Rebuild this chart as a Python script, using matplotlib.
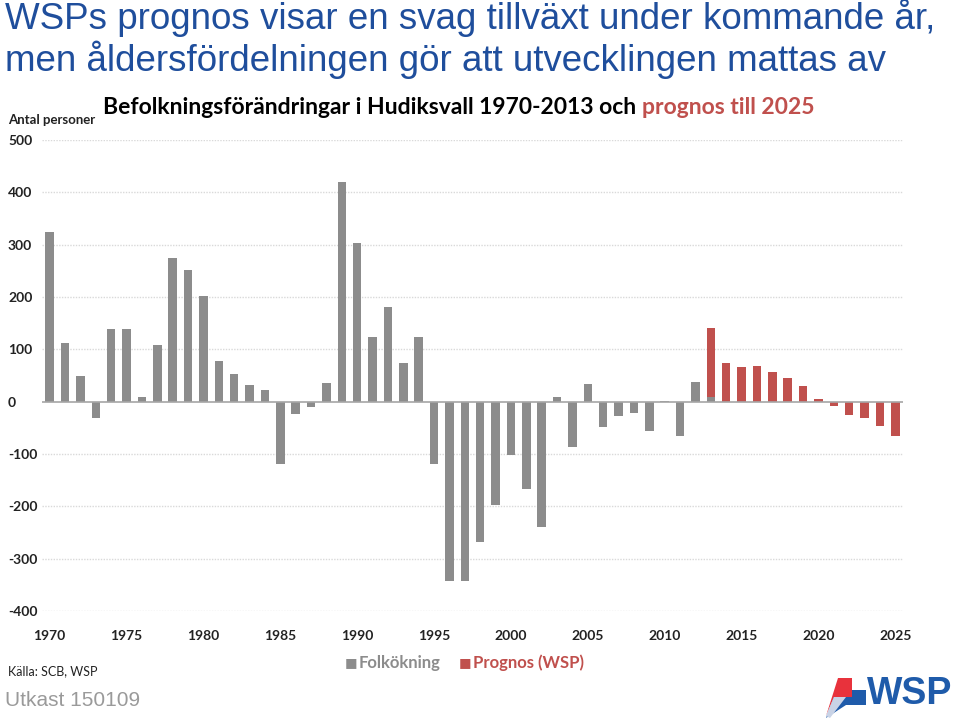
import matplotlib
matplotlib.use("Agg")
import matplotlib.pyplot as plt
from matplotlib.patches import Polygon

# data
years = list(range(1970, 2026))
folkokning = [324, 113, 50, -32, 138, 139, 9, 108, 274, 252,
              202, 77, 53, 32, 22, -119, -24, -11, 35, 420,
              303, 123, 180, 73, 124, -120, -342, -343, -268, -197,
              -102, -166, -240, 9, -87, 34, -48, -28, -22, -57,
              1, -65, 37, 8]
prognos = [141, 74, 66, 68, 56, 45, 30, 6, -8, -25, -32, -46, -66]
prognos_start = 2013

grey = "#8c8c8c"
red = "#c0504d"
blue = "#1f4e9c"

fig = plt.figure(figsize=(9.6, 7.24), dpi=100)
ax = fig.add_axes([42 / 960, 113 / 724, 861 / 960, 471 / 724])

xg = list(range(len(folkokning)))
xp = [years.index(prognos_start) + i for i in range(len(prognos))]
ax.bar(xp, prognos, width=0.55, color=red, zorder=2)
ax.bar(xg, folkokning, width=0.55, color=grey, zorder=3)

ax.set_xlim(-0.5, len(years) - 0.5)
ax.set_ylim(-400, 500)
yticks = list(range(-400, 501, 100))
ax.set_yticks(yticks)
for t in yticks:
    if t == 0:
        ax.axhline(0, color="#a6a6a6", lw=1.2, zorder=4)
    else:
        ax.axhline(t, color="#d9d9d9", lw=1, ls=(0, (1, 1)), zorder=1)

tick_years = list(range(1970, 2026, 5))
ax.set_xticks([years.index(y) for y in tick_years])
ax.set_xticklabels([str(y) for y in tick_years], fontsize=10, fontfamily="Lato",
                   fontweight="bold", color="#222222")
ax.set_yticklabels([str(t) for t in yticks], fontsize=10, fontfamily="Lato",
                   fontweight="bold", color="#222222", ha="left")
ax.tick_params(length=0, axis="x", pad=14)
ax.tick_params(length=0, axis="y", pad=24.5)
for ax_side in ax.spines.values():
    ax_side.set_visible(False)

# title
fig.text(5 / 960, 1 - 18 / 724, "WSPs prognos visar en svag tillväxt under kommande år,",
         fontsize=26.5, fontfamily="Liberation Sans", color=blue, va="center")
fig.text(5 / 960, 1 - 60 / 724, "men åldersfördelningen gör att utvecklingen mattas av",
         fontsize=26.5, fontfamily="Liberation Sans", color=blue, va="center")

# subtitle in two colours
sub1 = fig.text(103 / 960, 1 - 108 / 724, "Befolkningsförändringar i Hudiksvall 1970-2013 och ",
                fontsize=16.5, fontfamily="Lato", fontweight="bold", color="black", va="center")
fig.canvas.draw()
bb = sub1.get_window_extent()
fig.text(bb.x1 / 960, 1 - 108 / 724, "prognos till 2025", fontsize=16.5, fontfamily="Lato",
         fontweight="bold", color=red, va="center")

fig.text(8 / 960, 1 - 120 / 724, "Antal personer", fontsize=9.5, fontfamily="Lato",
         fontweight="bold", color="#222222", va="center")

# legend
fig.text(345 / 960, 1 - 663 / 724, "■", fontsize=9.5, color=grey, va="center")
fig.text(359 / 960, 1 - 663 / 724, "Folkökning", fontsize=12, fontfamily="Lato",
         fontweight="bold", color=grey, va="center")
fig.text(459 / 960, 1 - 663 / 724, "■", fontsize=9.5, color=red, va="center")
fig.text(473 / 960, 1 - 663 / 724, "Prognos (WSP)", fontsize=12, fontfamily="Lato",
         fontweight="bold", color=red, va="center")

fig.text(8 / 960, 1 - 671 / 724, "Källa: SCB, WSP", fontsize=9, fontfamily="Lato",
         color="#222222", va="center")
fig.text(5 / 960, 1 - 700 / 724, "Utkast 150109", fontsize=15, fontfamily="Liberation Sans",
         color="#9a9a9a", va="center")

# WSP logo
def fig_poly(pts, color):
    p = Polygon([(x / 960, 1 - y / 724) for x, y in pts], closed=True,
                transform=fig.transFigure, facecolor=color, edgecolor="none")
    fig.patches.append(p)

fig_poly([(838, 678), (852, 678), (852, 697), (834, 697), (826, 716)], "#e8323c")
fig_poly([(834, 697), (852, 697), (852, 690), (866, 690), (866, 705), (846, 705), (826, 718)], "#1f5baa")
fig_poly([(826, 716), (834, 697), (846, 697), (830, 718)], "#c9d3e6")
fig.text(867 / 960, 1 - 694 / 724, "WSP", fontsize=27, fontfamily="Liberation Sans",
         fontweight="bold", color="#1f5baa", va="center")

fig.savefig("out.png", dpi=100)
